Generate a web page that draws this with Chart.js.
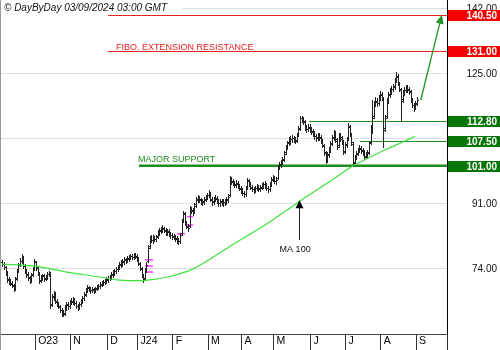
<!DOCTYPE html>
<html>
<head>
<meta charset="utf-8">
<script src="https://cdn.jsdelivr.net/npm/chart.js@4.4.1/dist/chart.umd.min.js"></script>
<style>
  html, body { margin: 0; padding: 0; background: #fff; }
  #wrap { width: 500px; height: 350px; }
</style>
</head>
<body>
<div id="wrap"><canvas id="myChart"></canvas></div>
<script>
// month separators sit between trading days (bar index)
const monthTicks = [20.5, 42.5, 65.5, 84.5, 106.5, 128.5, 149.5, 169.5, 192.5, 214.5, 236.5, 258.5];
const monthLabels = ['O23', 'N', 'D', 'J24', 'F', 'M', 'A', 'M', 'J', 'J', 'A', 'S'];
const priceTicks = [74, 91, 108, 125, 142];

// daily bars, Sep 2023 -> Sep 2024
const open = [
  75.8, 75.3, 74.5, 72.8, 71.4, 70.6, 70.4, 69.6, 68.9, 71.7,
  73.6, 75.2, 76.0, 77.0, 74.9, 73.4, 72.7, 71.6, 71.1, 72.6,
  74.1, 75.7, 74.2, 72.8, 71.2, 71.8, 72.3, 71.6, 71.9, 72.8,
  72.8, 64.9, 66.6, 67.4, 65.4, 64.8, 64.1, 63.4, 62.6, 62.5,
  63.7, 64.8, 64.4, 65.3, 65.4, 65.9, 65.0, 64.2, 64.1, 64.9,
  65.6, 66.5, 67.4, 68.6, 69.0, 68.7, 68.5, 68.6, 68.5, 68.9,
  69.3, 69.5, 70.1, 70.2, 70.6, 71.0, 71.2, 71.7, 72.0, 72.4,
  73.0, 73.5, 74.1, 74.6, 75.1, 75.4, 76.0, 76.5, 76.3, 76.7,
  77.1, 77.4, 77.2, 77.6, 77.2, 76.6, 75.4, 74.0, 72.2, 71.6,
  73.9, 76.2, 80.1, 82.2, 81.5, 82.0, 81.9, 82.5, 83.4, 84.1,
  84.3, 84.5, 84.0, 83.6, 83.8, 83.2, 82.8, 82.4, 82.5, 81.9,
  81.5, 81.4, 83.3, 86.8, 88.3, 85.9, 85.0, 85.3, 89.6, 89.2,
  89.1, 90.9, 92.2, 92.6, 92.0, 91.4, 91.7, 92.3, 92.8, 93.4,
  93.6, 92.1, 91.7, 92.3, 92.4, 91.6, 91.3, 91.7, 91.2, 91.6,
  91.5, 92.2, 93.4, 97.4, 96.8, 96.5, 96.0, 96.3, 95.7, 95.0,
  94.5, 93.8, 93.7, 95.4, 97.0, 96.2, 95.2, 94.9, 94.8, 95.3,
  95.4, 95.1, 95.5, 95.9, 96.2, 95.7, 95.1, 95.0, 96.3, 97.6,
  97.8, 97.0, 97.9, 100.8, 101.4, 102.1, 102.8, 104.5, 106.0, 107.1,
  107.5, 108.0, 108.2, 107.9, 107.8, 109.2, 110.9, 113.4, 113.0, 112.5,
  110.8, 110.7, 111.0, 110.5, 109.8, 109.3, 108.7, 108.5, 108.6, 108.3,
  107.4, 106.2, 104.3, 102.5, 104.0, 105.3, 106.9, 108.4, 109.4, 107.6,
  106.4, 108.7, 108.1, 107.2, 104.9, 106.6, 108.2, 111.1, 109.0, 106.8,
  101.9, 103.3, 104.4, 105.2, 105.4, 104.9, 104.3, 103.6, 104.0, 104.7,
  107.3, 111.2, 113.9, 117.4, 117.8, 117.5, 118.8, 119.6, 118.5, 110.9,
  114.1, 118.1, 119.8, 120.4, 121.2, 121.8, 123.6, 124.3, 122.4, 120.8,
  118.4, 120.1, 120.9, 121.4, 120.8, 120.3, 118.0, 116.8, 116.5, 117.5
];
const high = [
  76.3, 75.9, 74.9, 73.4, 71.9, 71.3, 70.8, 70.1, 72.0, 74.1,
  75.6, 76.9, 77.8, 77.4, 75.3, 74.0, 73.2, 72.1, 72.9, 74.5,
  76.6, 76.2, 74.8, 73.2, 72.3, 72.8, 72.7, 72.5, 73.1, 73.6,
  73.3, 67.5, 68.2, 67.9, 66.1, 65.4, 64.6, 63.9, 63.2, 64.5,
  65.3, 65.4, 65.8, 66.3, 66.7, 66.4, 65.6, 64.8, 65.4, 66.2,
  66.9, 67.9, 69.0, 69.9, 69.6, 69.3, 69.3, 69.1, 69.4, 69.7,
  70.2, 70.5, 70.9, 71.1, 71.5, 72.0, 72.2, 72.5, 73.2, 73.7,
  74.0, 74.6, 75.0, 75.8, 76.3, 76.5, 77.1, 77.0, 77.4, 77.7,
  78.0, 77.9, 78.3, 78.2, 77.8, 77.1, 75.9, 74.5, 72.8, 74.2,
  75.7, 80.2, 82.6, 82.9, 82.8, 82.6, 83.0, 84.1, 84.7, 85.1,
  85.4, 85.1, 84.6, 84.5, 84.4, 83.8, 83.4, 83.2, 83.0, 82.5,
  82.1, 83.4, 87.1, 89.2, 88.8, 86.6, 85.7, 90.4, 90.3, 89.9,
  91.3, 92.7, 93.4, 93.2, 92.6, 92.2, 92.8, 93.3, 94.0, 94.6,
  94.1, 92.7, 92.8, 93.3, 93.0, 92.3, 92.3, 92.4, 92.2, 92.3,
  92.7, 93.6, 98.2, 98.0, 97.5, 97.1, 97.2, 96.9, 96.3, 95.7,
  95.1, 94.4, 95.7, 97.9, 97.6, 96.8, 95.9, 95.5, 95.8, 96.2,
  96.0, 96.0, 96.5, 96.8, 96.9, 96.4, 95.8, 96.7, 98.1, 98.7,
  98.4, 98.1, 101.2, 102.0, 102.6, 103.3, 104.9, 106.5, 107.6, 108.4,
  108.7, 109.1, 108.9, 108.6, 109.6, 111.3, 114.0, 114.1, 113.7, 113.0,
  111.6, 112.0, 111.8, 111.2, 110.6, 110.1, 109.4, 109.6, 109.5, 109.0,
  108.1, 106.8, 104.9, 104.5, 105.8, 107.5, 109.0, 110.4, 110.0, 108.2,
  109.6, 109.5, 108.9, 107.8, 107.1, 108.6, 112.1, 111.7, 109.6, 107.3,
  103.8, 104.9, 105.7, 106.4, 106.1, 105.6, 105.0, 104.5, 105.1, 107.6,
  111.6, 118.2, 117.9, 118.9, 118.6, 119.4, 120.6, 120.3, 119.0, 114.3,
  118.6, 120.4, 121.4, 121.8, 122.4, 124.0, 125.4, 124.9, 123.0, 121.3,
  120.7, 121.5, 122.0, 122.2, 121.5, 120.8, 118.6, 117.4, 118.0, 118.9
];
const low = [
  74.9, 74.1, 72.4, 70.5, 70.1, 69.7, 69.2, 68.2, 68.5, 71.2,
  73.1, 74.7, 75.6, 74.2, 73.0, 71.9, 71.1, 70.3, 70.6, 72.1,
  73.7, 73.8, 72.5, 70.3, 70.6, 71.2, 70.8, 71.0, 71.4, 72.2,
  63.8, 64.3, 66.0, 65.0, 64.4, 63.7, 62.7, 61.8, 61.7, 62.0,
  63.2, 63.6, 63.9, 64.8, 64.9, 64.6, 63.8, 63.3, 63.6, 64.4,
  65.1, 66.0, 66.9, 68.1, 68.3, 67.8, 67.9, 67.7, 67.9, 68.4,
  68.8, 69.0, 69.5, 69.7, 70.0, 70.4, 70.6, 71.1, 71.4, 71.9,
  72.4, 72.9, 73.5, 74.0, 74.5, 74.8, 75.4, 75.6, 75.7, 76.1,
  76.5, 76.5, 76.6, 76.8, 76.2, 75.0, 73.7, 71.8, 70.7, 71.0,
  73.3, 75.8, 79.6, 81.0, 80.9, 81.2, 81.3, 82.0, 82.9, 83.5,
  83.7, 83.6, 83.0, 83.0, 82.7, 82.2, 81.9, 81.8, 81.4, 80.9,
  80.5, 80.9, 82.9, 86.2, 85.5, 84.6, 84.0, 84.9, 88.7, 88.1,
  88.6, 90.3, 91.6, 91.5, 90.9, 90.8, 91.1, 91.7, 92.2, 92.8,
  91.8, 90.8, 91.0, 91.7, 91.2, 90.5, 90.6, 90.7, 90.6, 90.8,
  90.9, 91.6, 93.0, 96.3, 96.0, 95.5, 95.4, 95.2, 94.6, 93.9,
  93.3, 92.7, 93.1, 95.0, 95.8, 94.8, 94.3, 93.9, 94.2, 94.7,
  94.3, 94.5, 94.9, 95.3, 95.2, 94.6, 94.1, 94.4, 95.8, 97.0,
  96.5, 96.3, 97.5, 100.2, 100.8, 101.5, 102.3, 104.0, 105.4, 106.5,
  106.8, 107.3, 107.3, 106.9, 107.2, 108.7, 110.4, 112.5, 112.0, 110.3,
  109.8, 110.0, 109.9, 109.3, 108.7, 108.1, 107.5, 107.8, 107.7, 106.9,
  105.8, 103.9, 101.6, 101.9, 103.4, 104.7, 106.3, 107.8, 107.2, 105.3,
  105.9, 107.6, 106.8, 104.0, 104.3, 106.0, 107.7, 108.7, 106.5, 101.0,
  101.2, 102.7, 103.8, 104.5, 104.4, 103.9, 102.8, 102.9, 103.3, 104.1,
  106.8, 109.6, 113.4, 116.6, 116.5, 116.9, 118.2, 118.1, 105.9, 110.2,
  113.6, 117.4, 119.1, 119.8, 120.5, 121.2, 123.0, 122.0, 120.5, 112.6,
  117.7, 119.4, 120.2, 120.3, 119.8, 117.6, 116.3, 115.4, 115.8, 117.0
];
const close = [
  75.4, 74.6, 73.0, 71.2, 70.8, 70.2, 69.9, 68.7, 71.5, 73.4,
  75.0, 76.2, 77.3, 74.8, 73.6, 72.5, 71.8, 70.9, 72.4, 73.9,
  76.0, 74.4, 73.1, 70.9, 71.6, 72.1, 71.4, 71.8, 72.6, 73.0,
  64.6, 66.9, 67.6, 65.6, 65.0, 64.3, 63.2, 62.4, 62.3, 63.9,
  64.6, 64.2, 65.1, 65.6, 66.0, 65.2, 64.4, 63.9, 64.8, 65.5,
  66.3, 67.2, 68.4, 69.2, 68.9, 68.4, 68.7, 68.3, 68.8, 69.1,
  69.6, 69.9, 70.3, 70.5, 70.9, 71.4, 71.6, 71.9, 72.6, 73.1,
  73.4, 74.0, 74.4, 75.2, 75.6, 75.9, 76.4, 76.2, 76.8, 77.0,
  77.3, 77.1, 77.7, 77.4, 76.8, 75.6, 74.3, 72.5, 71.3, 73.6,
  75.0, 79.6, 82.0, 81.6, 82.2, 81.8, 82.3, 83.5, 84.0, 84.4,
  84.6, 84.2, 83.7, 83.9, 83.3, 82.9, 82.5, 82.6, 82.0, 81.6,
  81.2, 82.8, 86.5, 88.6, 86.1, 85.2, 84.8, 89.8, 89.4, 88.8,
  90.6, 92.0, 92.7, 92.2, 91.6, 91.5, 92.1, 92.6, 93.3, 93.9,
  92.4, 91.5, 92.1, 92.6, 91.8, 91.2, 91.6, 91.3, 91.5, 91.4,
  92.0, 92.9, 97.6, 97.0, 96.7, 96.2, 96.5, 95.9, 95.2, 94.6,
  94.0, 93.5, 95.0, 97.2, 96.4, 95.4, 95.0, 94.6, 95.1, 95.5,
  95.0, 95.3, 95.8, 96.1, 95.9, 95.3, 94.8, 96.0, 97.4, 98.0,
  97.1, 97.4, 100.6, 101.3, 101.9, 102.6, 104.2, 105.8, 106.9, 107.6,
  107.9, 108.3, 108.0, 107.6, 108.9, 110.5, 113.6, 113.2, 112.8, 111.0,
  110.6, 111.2, 110.7, 110.0, 109.5, 108.9, 108.3, 108.8, 108.5, 107.6,
  106.5, 104.6, 102.2, 103.8, 105.0, 106.7, 108.2, 109.7, 107.9, 106.0,
  108.9, 108.4, 107.6, 104.6, 106.3, 107.8, 111.5, 109.4, 107.2, 101.6,
  103.1, 104.2, 105.0, 105.6, 105.1, 104.6, 103.4, 103.8, 104.4, 106.9,
  110.8, 113.6, 117.1, 118.0, 117.3, 118.6, 119.8, 118.9, 110.4, 113.5,
  117.8, 119.6, 120.6, 121.0, 121.5, 123.2, 124.6, 122.7, 121.2, 118.0,
  119.9, 120.7, 121.2, 121.0, 120.6, 118.3, 117.0, 116.2, 117.2, 118.1
];

// 100-day moving average, read at a handful of bar indices
const maIndex = [0, 19, 40, 61, 73, 86, 95, 103, 111, 118.5, 142, 167, 186, 205, 218.5, 239, 258];
const maValue = [75.3, 74.8, 73.2, 71.9, 71.1, 70.95, 71.3, 71.9, 72.8, 73.9, 79.9, 86.3, 91.8, 97.0, 100.8, 105.1, 108.7];

// gap marks: [from index, to index, price]
const gapMarks = [
  [89.1, 94.1, 76.4], [89.1, 94.1, 74.8], [89.1, 94.1, 73.2],
  [109.1, 114.1, 83.2], [115.4, 119.1, 87.7], [115.4, 119.1, 85.5]
];

// horizontal levels and their right-hand tags
const levelValues = [140.5, 131.0, 112.8, 107.5, 101.0];
const levelStart = [66, 66, 191.6, 223.5, 85.3];
const levelColor = ['#e82020', '#e82020', '#1e8c1e', '#1e8c1e', '#1e8c1e'];
const levelTag = ['#f40000', '#f40000', '#077507', '#077507', '#077507'];
const levelWidth = [1, 1, 1, 1, 2.5];

const FONT = '"Liberation Sans", Arial, sans-serif';
Chart.defaults.font.family = FONT;

const px = (chart, v) => chart.scales.x.getPixelForValue(v);
const py = (chart, v) => chart.scales.y.getPixelForValue(v);

function arrowHead(ctx, x0, y0, x1, y1, len, half) {
  const a = Math.atan2(y1 - y0, x1 - x0);
  ctx.beginPath();
  ctx.moveTo(x1, y1);
  ctx.lineTo(x1 - len * Math.cos(a) + half * Math.sin(a), y1 - len * Math.sin(a) - half * Math.cos(a));
  ctx.lineTo(x1 - len * Math.cos(a) - half * Math.sin(a), y1 - len * Math.sin(a) + half * Math.cos(a));
  ctx.closePath();
  ctx.fill();
}

const marks = {
  id: 'marks',
  beforeDatasetsDraw(chart) {
    const {ctx, chartArea: area} = chart;
    ctx.save();

    // stamp
    ctx.fillStyle = '#fff';
    ctx.fillRect(2, 1, 180, 12);
    ctx.fillStyle = '#111';
    ctx.font = 'italic 10px ' + FONT;
    ctx.textAlign = 'left';
    ctx.textBaseline = 'alphabetic';
    ctx.fillText('\u00A9 DayByDay 03/09/2024 03:00 GMT', 4, 11);

    // left frame
    ctx.fillStyle = '#9a9a9a';
    ctx.fillRect(0, 0, 1, chart.height);

    // level lines
    levelValues.forEach((v, i) => {
      const y = py(chart, v);
      ctx.strokeStyle = levelColor[i];
      ctx.lineWidth = levelWidth[i];
      ctx.beginPath();
      const yy = levelWidth[i] === 1 ? Math.round(y) + 0.5 : y;
      ctx.moveTo(px(chart, levelStart[i]), yy);
      ctx.lineTo(area.right, yy);
      ctx.stroke();
    });
    ctx.font = '9px ' + FONT;
    ctx.fillStyle = '#e82020';
    ctx.fillText('FIBO. EXTENSION RESISTANCE', px(chart, 71), py(chart, 131.0) - 1);
    ctx.fillStyle = '#1e8c1e';
    ctx.fillText('MAJOR SUPPORT', px(chart, 84.7), py(chart, 101.0) - 4);

    // gap marks
    ctx.strokeStyle = '#ff3cff';
    ctx.lineWidth = 1.5;
    gapMarks.forEach(([a, b, v]) => {
      ctx.beginPath();
      ctx.moveTo(px(chart, a), py(chart, v));
      ctx.lineTo(px(chart, b), py(chart, v));
      ctx.stroke();
    });

    // OHLC bars
    ctx.fillStyle = '#222';
    for (let i = 0; i < close.length; i++) {
      const x = Math.round(px(chart, i));
      const yh = Math.round(py(chart, high[i]));
      const yl = Math.round(py(chart, low[i]));
      ctx.fillRect(x, yh, 1, Math.max(1, yl - yh + 1));
      ctx.fillRect(x - 1, Math.round(py(chart, open[i])), 1, 1);
      ctx.fillRect(x + 1, Math.round(py(chart, close[i])), 1, 1);
    }
    ctx.restore();
  },
  afterDraw(chart) {
    const {ctx, chartArea: area} = chart;
    ctx.save();

    // projected move towards the extension target
    const ax0 = px(chart, 261.4), ay0 = py(chart, 118.2);
    const ax1 = px(chart, 274.6), ay1 = py(chart, 140.5);
    ctx.strokeStyle = '#1f9424';
    ctx.fillStyle = '#1f9424';
    ctx.lineWidth = 1.3;
    ctx.beginPath();
    ctx.moveTo(ax0, ay0);
    ctx.lineTo(ax1 - (ax1 - ax0) * 0.08, ay1 - (ay1 - ay0) * 0.08);
    ctx.stroke();
    arrowHead(ctx, ax0, ay0, ax1, ay1, 9, 4);

    // MA 100 pointer
    const mx = Math.round(px(chart, 185.4)) + 0.5;
    const mTip = py(chart, 92.0);
    ctx.strokeStyle = '#222';
    ctx.fillStyle = '#000';
    ctx.lineWidth = 1;
    ctx.beginPath();
    ctx.moveTo(mx, py(chart, 81.6));
    ctx.lineTo(mx, mTip + 6);
    ctx.stroke();
    arrowHead(ctx, mx, mTip + 20, mx, mTip, 8, 4);
    ctx.font = '9px ' + FONT;
    ctx.textAlign = 'center';
    ctx.fillStyle = '#111';
    ctx.fillText('MA 100', px(chart, 182.9), py(chart, 78.4));

    // value tags on the price axis
    ctx.font = 'bold 10px ' + FONT;
    ctx.textAlign = 'right';
    ctx.textBaseline = 'middle';
    levelValues.forEach((v, i) => {
      const y = Math.round(py(chart, v));
      ctx.fillStyle = levelTag[i];
      ctx.fillRect(area.right + 1, y - 5, chart.width - area.right - 1, 11);
      ctx.fillStyle = '#fff';
      ctx.fillText(v.toFixed(2), chart.width - 3, y + 1);
    });
    ctx.restore();
  }
};

const config = {
  type: 'line',
  data: {
    datasets: [{
      label: 'MA 100',
      data: maIndex.map((x, i) => ({x, y: maValue[i]})),
      borderColor: '#3fe23f',
      borderWidth: 1.2,
      pointRadius: 0,
      cubicInterpolationMode: 'monotone',
      fill: false
    }]
  },
  plugins: [marks],
  options: {
    responsive: true,
    maintainAspectRatio: false,
    devicePixelRatio: 1,
    animation: false,
    layout: { padding: { left: 1, right: 3, top: 0, bottom: 0 } },
    plugins: {
      legend: { display: false },
      tooltip: { enabled: false }
    },
    scales: {
      x: {
        type: 'linear',
        min: -0.9,
        max: 277.8,
        afterBuildTicks(axis) {
          axis.ticks = monthTicks.map(v => ({value: v})).concat([{value: axis.max}]);
        },
        afterFit(axis) {
          axis.height = 16;
          axis.paddingLeft = 0;
          axis.paddingRight = 0;
        },
        grid: { drawOnChartArea: false, drawTicks: true, tickLength: 16, color: '#333' },
        border: { color: '#444' },
        ticks: {
          autoSkip: false,
          maxRotation: 0,
          minRotation: 0,
          align: 'start',
          padding: -15,
          color: '#000',
          font: { size: 10.5 },
          callback: (v, i) => (monthLabels[i] !== undefined ? ' ' + monthLabels[i] : '')
        }
      },
      y: {
        position: 'right',
        min: 57,
        max: 144.35,
        afterBuildTicks(axis) {
          axis.ticks = priceTicks.map(v => ({value: v}));
        },
        afterFit(axis) {
          axis.width = 50;
          axis.paddingTop = 0;
          axis.paddingBottom = 0;
        },
        grid: { color: '#dedede', drawTicks: false },
        border: { color: '#000' },
        ticks: {
          crossAlign: 'far',
          color: '#111',
          font: { size: 10 },
          // a tick sitting right on a level tag is hidden behind it
          callback: v => (levelValues.some(l => Math.abs(l - v) < 1) ? '' : Number(v).toFixed(2))
        }
      }
    }
  }
};

const myChart = new Chart(document.getElementById('myChart'), config);
</script>
</body>
</html>
